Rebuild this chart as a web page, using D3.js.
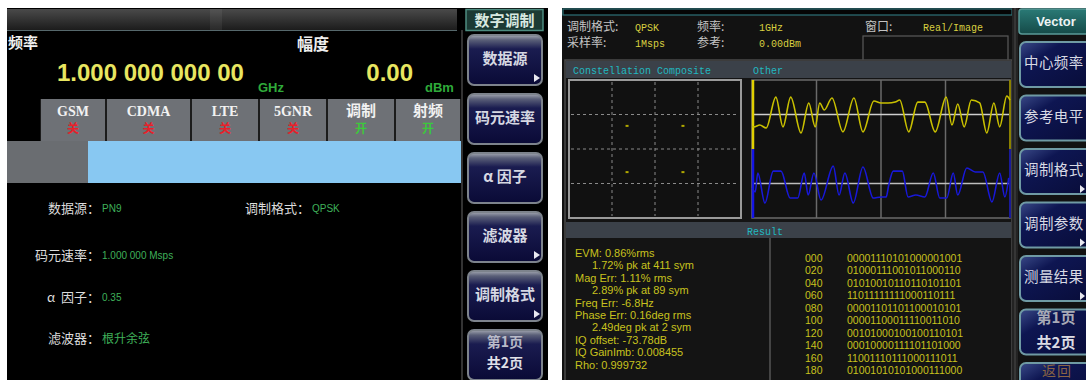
<!DOCTYPE html>
<html><head><meta charset="utf-8">
<script src="https://cdn.jsdelivr.net/npm/d3@7"></script>
<style>body{margin:0;background:#fff;}svg{display:block;}</style>
</head><body>
<svg id="c" width="1086" height="380"></svg>
<script>
// ---------------- DATA ----------------
const freqLabel = "频率", freqValue = "1.000 000 000 00", freqUnit = "GHz";
const ampLabel = "幅度", ampValue = "0.00", ampUnit = "dBm";
const tabNames = ["GSM", "CDMA", "LTE", "5GNR", "调制", "射频"];
const tabStates = ["关", "关", "关", "关", "开", "开"];
const paramLabels = ["数据源：", "码元速率：", "α  因子：", "滤波器：", "调制格式："];
const paramValues = ["PN9", "1.000 000 Msps", "0.35", "根升余弦", "QPSK"];
const leftMenuTitle = "数字调制";
const leftButtons = ["数据源", "码元速率", "α 因子", "滤波器", "调制格式", "第1页|共2页"];
const leftArrows = [true, false, false, true, true, false];

const hdrLabels = ["调制格式:", "频率:", "窗口:", "采样率:", "参考:"];
const hdrValues = ["QPSK", "1GHz", "Real/Image", "1Msps", "0.00dBm"];
const plotTitles = ["Constellation Composite", "Other"];
const resultTitle = "Result";
const resultLines = ["EVM: 0.86%rms", "1.72% pk at 411 sym", "Mag Err: 1.11% rms", "2.89% pk at 89 sym",
  "Freq Err: -6.8Hz", "Phase Err: 0.16deg rms", "2.49deg pk at 2 sym", "IQ offset: -73.78dB",
  "IQ GainImb: 0.008455", "Rho: 0.999732"];
const resultIndent = [false, true, false, true, false, false, true, false, false, false];
const bitIndex = ["000", "020", "040", "060", "080", "100", "120", "140", "160", "180"];
const bitRows = ["00001110101000001001", "01000111001011000110", "01010010110110101101",
  "11011111111000110111", "00001101101100010101", "00001100011110011010", "00101000100100110101",
  "00010000111101101000", "11001110111000111011", "01001010101000111000"];
const rightMenuTitle = "Vector";
const rightButtons = ["中心频率", "参考电平", "调制格式", "调制参数", "测量结果", "第1页|共2页", "返回"];
const rightArrows = [false, false, true, true, true, false, false];

// Constellation (I, Q)
const constI = [-0.65, 0.65, -0.65, 0.65];
const constQ = [0.67, 0.67, -0.67, -0.67];
// Waveforms: time in symbols, amplitude normalised
const iTime = [0, 0.3, 1.2, 2.2, 3.7, 4.8, 6.0, 7.6, 8.8, 9.8, 10.5, 11.2, 12.4, 14.1, 15.8, 17.2, 18.9, 20.0, 21.1, 22.2, 22.9, 24.3, 25.7, 26.8, 28.4, 30.1, 31.0, 31.9, 32.9, 34.0, 35.3, 36.4, 37.5, 38.4, 39.5, 40.0];
const iVals = [-0.7, -0.72, -0.61, -0.78, 1.01, -0.72, 1.01, -1.07, 0.67, -0.72, 0.67, 0.26, 0.96, -1.01, 0.96, -1.01, 0.78, 0.67, 0.67, 0.72, 0.84, -1.01, 0.72, 0.72, -1.01, 1.01, -0.61, 0.61, -0.72, 0.84, 0.67, -1.07, 0.67, -0.72, 1.07, 0.84];
const qTime = [0.0, 0.5, 0.9, 2.0, 3.3, 4.5, 5.9, 7.1, 8.1, 8.7, 9.6, 10.7, 12.6, 13.5, 14.4, 15.7, 17.2, 18.8, 20.0, 20.8, 21.2, 21.9, 23.3, 24.2, 25.4, 26.8, 28.1, 29.1, 30.2, 31.2, 31.9, 33.3, 34.6, 35.8, 37.2, 38.4, 39.2, 39.8];
const qVals = [-0.26, -0.49, 0.61, -1.13, 0.72, 0.72, -0.84, -0.84, 0.61, -0.67, 0.61, -0.96, 1.01, -0.67, 0.61, -1.13, 0.96, -0.84, -0.78, -0.78, -0.09, 0.72, 0.72, -0.78, -0.67, -0.78, 0.61, -0.84, -0.84, 0.61, -0.67, 0.90, 0.67, 0.67, -1.07, 0.61, -0.78, 0.32];

// ---------------- DRAW ----------------
const svg = d3.select("#c");
const defs = svg.append("defs");
function grad(id, stops, x2 = 0, y2 = 1) {
  const g = defs.append("linearGradient").attr("id", id).attr("x1", 0).attr("y1", 0).attr("x2", x2).attr("y2", y2);
  stops.forEach(s => g.append("stop").attr("offset", s[0]).attr("stop-color", s[1]));
}
grad("topbar", [[0, "#4a4a4a"], [1, "#1c1c1c"]]);
grad("navy", [[0, "#a4a8b2"], [0.1, "#5a5f78"], [0.28, "#1a1c50"], [1, "#0a0a36"]]);
grad("navy2", [[0, "#3a4a88"], [0.3, "#0e1652"], [1, "#080c38"]], 1, 1);
grad("teal", [[0, "#2a7a76"], [1, "#154a48"]]);
const CJK = "'Noto Sans CJK SC', sans-serif";
const SANS = "'Liberation Sans', Arial, sans-serif";
const MONO = "'Liberation Mono', 'DejaVu Sans Mono', monospace";

// ===== LEFT SCREEN =====
const L = svg.append("g");
L.append("rect").attr("x", 7).attr("y", 8).attr("width", 541).attr("height", 372).attr("fill", "#000");
L.append("rect").attr("x", 7).attr("y", 9).attr("width", 450).attr("height", 21).attr("fill", "url(#topbar)");
L.append("rect").attr("x", 210).attr("y", 9).attr("width", 12).attr("height", 21).attr("fill", "#fff").attr("opacity", 0.06);
L.append("line").attr("x1", 7).attr("x2", 457).attr("y1", 30.5).attr("y2", 30.5).attr("stroke", "#56686c");

L.append("text").attr("x", 8).attr("y", 48).text(freqLabel).attr("font-family", CJK).attr("font-weight", "bold").attr("font-size", 15).attr("fill", "#f0f0f0");
L.append("text").attr("x", 57).attr("y", 81).text(freqValue).attr("font-family", SANS).attr("font-weight", "bold").attr("font-size", 24).attr("fill", "#e8e660").style("white-space", "pre");
L.append("text").attr("x", 258).attr("y", 92).text(freqUnit).attr("font-family", SANS).attr("font-weight", "bold").attr("font-size", 13).attr("fill", "#2faa3a");
L.append("text").attr("x", 297).attr("y", 50).text(ampLabel).attr("font-family", CJK).attr("font-weight", "bold").attr("font-size", 16).attr("fill", "#eee");
L.append("text").attr("x", 413).attr("y", 81).attr("text-anchor", "end").text(ampValue).attr("font-family", SANS).attr("font-weight", "bold").attr("font-size", 24).attr("fill", "#e8e660");
L.append("text").attr("x", 425).attr("y", 92).text(ampUnit).attr("font-family", SANS).attr("font-weight", "bold").attr("font-size", 13).attr("fill", "#2faa3a");

// tabs
const tabEdges = [40, 106, 191, 259, 327, 395, 461];
L.append("rect").attr("x", 40).attr("y", 99).attr("width", 421).attr("height", 42).attr("fill", "#1c1c1c");
const tabs = L.selectAll("g.tab").data(tabNames).join("g").attr("class", "tab");
tabs.append("rect").attr("x", (d, i) => tabEdges[i] + 1).attr("y", 99).attr("width", (d, i) => tabEdges[i + 1] - tabEdges[i] - 2).attr("height", 42).attr("fill", "#6e7176");
tabs.append("text").attr("x", (d, i) => (tabEdges[i] + tabEdges[i + 1]) / 2).attr("y", 116).attr("text-anchor", "middle")
  .text(d => d).attr("font-family", d => /[A-Z0-9]/.test(d) ? "'Liberation Serif', serif" : CJK).attr("font-weight", "bold")
  .attr("font-size", d => /[A-Z0-9]/.test(d) ? 14 : 15).attr("fill", "#f2f2f2");
tabs.append("text").attr("x", (d, i) => (tabEdges[i] + tabEdges[i + 1]) / 2).attr("y", 133).attr("text-anchor", "middle")
  .text((d, i) => tabStates[i]).attr("font-family", CJK).attr("font-weight", "bold").attr("font-size", 12)
  .attr("fill", (d, i) => tabStates[i] === "开" ? "#3cc83c" : "#e8202a");

L.append("rect").attr("x", 7).attr("y", 141).attr("width", 81).attr("height", 42).attr("fill", "#6a6d71");
L.append("rect").attr("x", 88).attr("y", 141).attr("width", 373).attr("height", 42).attr("fill", "#88c8f2");

// parameter list
const pLayout = [[100, 213], [100, 260], [100, 302], [100, 343], [310, 213]];
paramLabels.forEach((lab, i) => {
  const [ax, by] = pLayout[i];
  L.append("text").attr("x", ax).attr("y", by).attr("text-anchor", "end").text(lab).attr("font-family", CJK).attr("font-size", 13).attr("fill", "#dcdcdc").style("white-space", "pre");
  const isCJK = /[\u4e00-\u9fff]/.test(paramValues[i]);
  L.append("text").attr("x", ax + 2).attr("y", by - (isCJK ? 0 : 1)).text(paramValues[i]).attr("font-family", isCJK ? CJK : SANS)
    .attr("font-size", isCJK ? 12 : 10).attr("fill", "#3fb05a").style("white-space", "pre");
});

// left menu column
L.append("line").attr("x1", 462).attr("x2", 462).attr("y1", 30).attr("y2", 380).attr("stroke", "#444").attr("stroke-width", 1.5);
L.append("rect").attr("x", 466).attr("y", 9.5).attr("width", 77).attr("height", 21).attr("fill", "#1c3a34").attr("stroke", "#4d8c80").attr("stroke-width", 1.5);
L.append("text").attr("x", 504.5).attr("y", 25.5).attr("text-anchor", "middle").text(leftMenuTitle).attr("font-family", CJK).attr("font-weight", "bold").attr("font-size", 15).attr("fill", "#d8e8e0");
const lb = L.selectAll("g.lb").data(leftButtons).join("g").attr("class", "lb").attr("transform", (d, i) => `translate(468,${35 + i * 59})`);
lb.append("rect").attr("width", 74).attr("height", 50).attr("rx", 6).attr("fill", "url(#navy)").attr("stroke", "#7d838c").attr("stroke-width", 2);
lb.each(function (d, i) {
  const g = d3.select(this);
  const parts = d.split("|");
  if (parts.length === 1) {
    g.append("text").attr("x", 37).attr("y", 29).attr("text-anchor", "middle").text(d).attr("font-family", CJK).attr("font-weight", "bold").attr("font-size", 15).attr("fill", "#d6d8e2").style("white-space", "pre");
  } else {
    g.append("text").attr("x", 37).attr("y", 17).attr("text-anchor", "middle").text(parts[0]).attr("font-family", CJK).attr("font-weight", "bold").attr("font-size", 14).attr("fill", "#b8bac8");
    g.append("text").attr("x", 37).attr("y", 38).attr("text-anchor", "middle").text(parts[1]).attr("font-family", CJK).attr("font-weight", "bold").attr("font-size", 14).attr("fill", "#e0e0e8");
  }
  if (leftArrows[i]) g.append("path").attr("d", "M66,39 L72,43 L66,47 Z").attr("fill", "#e8e8f0");
});

// ===== RIGHT SCREEN =====
const R = svg.append("g");
R.append("rect").attr("x", 562).attr("y", 8).attr("width", 524).attr("height", 372).attr("fill", "#121212");
R.append("rect").attr("x", 563).attr("y", 9).attr("width", 449).attr("height", 6).attr("fill", "#050505").attr("stroke", "#2e7278").attr("stroke-width", 1.2);
const hdrPos = [[567, 635, 31], [697, 759, 31], [865, 923, 31], [567, 635, 47], [697, 759, 47]];
hdrLabels.forEach((lab, i) => {
  const [lx, vx, by] = hdrPos[i];
  R.append("text").attr("x", lx).attr("y", by).text(lab).attr("font-family", CJK).attr("font-size", 12).attr("fill", "#c4c4c4");
  R.append("text").attr("x", vx).attr("y", by).text(hdrValues[i]).attr("font-family", MONO).attr("font-size", 10).attr("fill", "#d8d040");
});
R.append("rect").attr("x", 863).attr("y", 36).attr("width", 145).attr("height", 30).attr("fill", "none").attr("stroke", "#5a5a5a").attr("stroke-width", 1.2);

// plot panel
R.append("rect").attr("x", 565).attr("y", 60).attr("width", 447).attr("height", 322).attr("fill", "#141414").attr("stroke", "#4a4a4a").attr("stroke-width", 1.5);
R.append("rect").attr("x", 566).attr("y", 61).attr("width", 445).attr("height", 17).attr("fill", "#3b4149");
R.append("text").attr("x", 573).attr("y", 74).text(plotTitles[0]).attr("font-family", MONO).attr("font-size", 10).attr("fill", "#22b8c0");
R.append("text").attr("x", 753).attr("y", 74).text(plotTitles[1]).attr("font-family", MONO).attr("font-size", 10).attr("fill", "#22b8c0");

// constellation
const cx = d3.scaleLinear().domain([-2, 2]).range([569, 741]);
const cy = d3.scaleLinear().domain([-2, 2]).range([218, 80]);
R.append("rect").attr("x", cx(-2)).attr("y", cy(2)).attr("width", cx(2) - cx(-2)).attr("height", cy(-2) - cy(2)).attr("fill", "#111").attr("stroke", "#9a9a9a").attr("stroke-width", 2);
[-1, 0, 1].forEach(v => {
  R.append("line").attr("x1", cx(v)).attr("x2", cx(v)).attr("y1", cy(2) + 2).attr("y2", cy(-2) - 2).attr("stroke", "#8a8a8a").attr("stroke-dasharray", "3,3");
  R.append("line").attr("y1", cy(v)).attr("y2", cy(v)).attr("x1", cx(-2) + 2).attr("x2", cx(2) - 2).attr("stroke", "#8a8a8a").attr("stroke-dasharray", "3,3");
});
R.selectAll("rect.pt").data(constI).join("rect").attr("class", "pt")
  .attr("x", (d) => cx(d) - 1.5).attr("y", (d, i) => cy(constQ[i]) - 1).attr("width", 3).attr("height", 2).attr("fill", "#b0a800");

// Other (I/Q vs time)
const tx = d3.scaleLinear().domain([0, 40]).range([752, 1010]);
const iy = d3.scaleLinear().domain([-2, 2]).range([149, 80]);
const qy = d3.scaleLinear().domain([-2, 2]).range([218, 149]);
R.append("rect").attr("x", tx(0)).attr("y", 80).attr("width", tx(40) - tx(0)).attr("height", 138).attr("fill", "#111").attr("stroke", "#6a6a6a").attr("stroke-width", 1.5);
[10, 20, 30].forEach(t => R.append("line").attr("x1", tx(t)).attr("x2", tx(t)).attr("y1", 80).attr("y2", 218).attr("stroke", "#6a6a6a").attr("stroke-width", 1.5));
R.append("line").attr("x1", tx(0)).attr("x2", tx(40)).attr("y1", iy(0)).attr("y2", iy(0)).attr("stroke", "#cfcfcf").attr("stroke-width", 1.5);
R.append("line").attr("x1", tx(0)).attr("x2", tx(40)).attr("y1", qy(0)).attr("y2", qy(0)).attr("stroke", "#bdbdbd").attr("stroke-width", 1.5);
R.append("line").attr("x1", tx(0) + 1).attr("x2", tx(0) + 1).attr("y1", iy(2)).attr("y2", iy(-2)).attr("stroke", "#e0d000").attr("stroke-width", 2.5);
R.append("line").attr("x1", tx(0) + 1).attr("x2", tx(0) + 1).attr("y1", qy(2)).attr("y2", qy(-2)).attr("stroke", "#1414e8").attr("stroke-width", 2.5);
R.append("line").attr("x1", tx(40)).attr("x2", tx(40)).attr("y1", iy(2)).attr("y2", iy(-2)).attr("stroke", "#8a8000").attr("stroke-width", 2);
R.append("line").attr("x1", tx(40)).attr("x2", tx(40)).attr("y1", qy(2)).attr("y2", qy(-2)).attr("stroke", "#1a1a9a").attr("stroke-width", 2);
const iLine = d3.line().x((d, i) => tx(iTime[i])).y(d => iy(d)).curve(d3.curveMonotoneX);
const qLine = d3.line().x((d, i) => tx(qTime[i])).y(d => qy(d)).curve(d3.curveMonotoneX);
R.append("path").attr("d", iLine(iVals)).attr("fill", "none").attr("stroke", "#c9c000").attr("stroke-width", 1.6);
R.append("path").attr("d", qLine(qVals)).attr("fill", "none").attr("stroke", "#1818d8").attr("stroke-width", 1.6);

// Result section
R.append("rect").attr("x", 566).attr("y", 222).attr("width", 445).attr("height", 16).attr("fill", "#3b4149");
R.append("text").attr("x", 765).attr("y", 235).attr("text-anchor", "middle").text(resultTitle).attr("font-family", MONO).attr("font-size", 10).attr("fill", "#22b8c0");
R.append("line").attr("x1", 770).attr("x2", 770).attr("y1", 238).attr("y2", 380).attr("stroke", "#555").attr("stroke-width", 1.5);
R.selectAll("text.res").data(resultLines).join("text").attr("class", "res")
  .attr("x", (d, i) => resultIndent[i] ? 592 : 575).attr("y", (d, i) => 257 + i * 12.4)
  .text(d => d).attr("font-family", SANS).attr("font-size", 11).attr("fill", "#c8c21e");
R.selectAll("text.bi").data(bitIndex).join("text").attr("class", "bi")
  .attr("x", 805).attr("y", (d, i) => 262 + i * 12.44).text(d => d).attr("font-family", SANS).attr("font-size", 10.5).attr("fill", "#c8c21e");
R.selectAll("text.br").data(bitRows).join("text").attr("class", "br")
  .attr("x", 847).attr("y", (d, i) => 262 + i * 12.44).text(d => d).attr("font-family", SANS).attr("font-size", 10.5).attr("fill", "#c8c21e");

// right menu column
R.append("rect").attr("x", 1012).attr("y", 8).attr("width", 6).attr("height", 372).attr("fill", "#232323");
R.append("line").attr("x1", 1015).attr("x2", 1015).attr("y1", 8).attr("y2", 380).attr("stroke", "#4a4a4a");
R.append("rect").attr("x", 1019).attr("y", 9).attr("width", 72).attr("height", 25).attr("rx", 3).attr("fill", "url(#teal)").attr("stroke", "#5a9a98").attr("stroke-width", 1.5);
R.append("text").attr("x", 1056).attr("y", 26).attr("text-anchor", "middle").text(rightMenuTitle).attr("font-family", SANS).attr("font-weight", "bold").attr("font-size", 13).attr("fill", "#eef4f4");
const rb = R.selectAll("g.rb").data(rightButtons).join("g").attr("class", "rb").attr("transform", (d, i) => `translate(1020,${42 + i * 53.5})`);
rb.append("rect").attr("width", 74).attr("height", 45).attr("rx", 6).attr("fill", "url(#navy2)").attr("stroke", "#6f9aa4").attr("stroke-width", 2);
rb.each(function (d, i) {
  const g = d3.select(this);
  const parts = d.split("|");
  if (parts.length === 1) {
    const back = i === rightButtons.length - 1;
    g.append("text").attr("x", back ? 22 : 4).attr("y", back ? 12.5 : 26).text(d).attr("font-family", CJK).attr("font-size", back ? 14 : 14.5)
      .attr("letter-spacing", back ? 1 : 0.4).attr("fill", back ? "#8a6444" : "#d8dae4");
  } else {
    g.append("text").attr("x", 36).attr("y", 13).attr("text-anchor", "middle").text(parts[0]).attr("font-family", CJK).attr("font-weight", "bold").attr("font-size", 15).attr("fill", "#a8aab6");
    g.append("text").attr("x", 36).attr("y", 38).attr("text-anchor", "middle").text(parts[1]).attr("font-family", CJK).attr("font-weight", "bold").attr("font-size", 15).attr("fill", "#dcdce4");
  }
  if (rightArrows[i]) g.append("path").attr("d", "M60,36 L65,40 L60,44 Z").attr("fill", "#e8e8f0");
});
</script>
</body></html>
